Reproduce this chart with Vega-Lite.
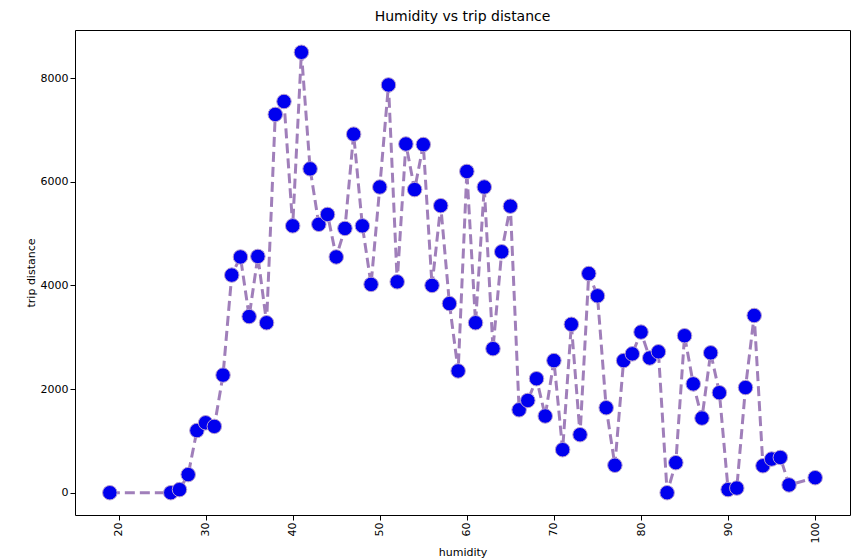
{
  "$schema": "https://vega.github.io/schema/vega-lite/v6.json",
  "width": 775, "height": 485,
  "autosize": {"type": "none"},
  "padding": {"left": 75, "top": 30, "right": 9, "bottom": 44},
  "title": {"text": "Humidity vs trip distance", "fontSize": 14, "fontWeight": "normal", "font": "DejaVu Sans", "color": "black", "offset": 6},
  "config": {"view": {"stroke": "black"}, "axis": {"labelFont": "DejaVu Sans", "titleFont": "DejaVu Sans", "labelFontSize": 11, "titleFontSize": 11, "titleFontWeight": "normal", "grid": false, "domain": false, "tickColor": "black", "labelColor": "black", "titleColor": "black"}},
  "data": {"values": [
    {"h":19,"d":0},{"h":26,"d":0},{"h":27,"d":60},{"h":28,"d":350},{"h":29,"d":1200},{"h":30,"d":1350},{"h":31,"d":1280},{"h":32,"d":2270},{"h":33,"d":4200},{"h":34,"d":4550},{"h":35,"d":3400},{"h":36,"d":4560},{"h":37,"d":3280},{"h":38,"d":7300},{"h":39,"d":7550},{"h":40,"d":5150},{"h":41,"d":8500},{"h":42,"d":6250},{"h":43,"d":5180},{"h":44,"d":5370},{"h":45,"d":4550},{"h":46,"d":5100},{"h":47,"d":6920},{"h":48,"d":5150},{"h":49,"d":4020},{"h":50,"d":5900},{"h":51,"d":7870},{"h":52,"d":4070},{"h":53,"d":6730},{"h":54,"d":5850},{"h":55,"d":6720},{"h":56,"d":4000},{"h":57,"d":5540},{"h":58,"d":3650},{"h":59,"d":2350},{"h":60,"d":6200},{"h":61,"d":3280},{"h":62,"d":5900},{"h":63,"d":2780},{"h":64,"d":4650},{"h":65,"d":5530},{"h":66,"d":1600},{"h":67,"d":1780},{"h":68,"d":2200},{"h":69,"d":1480},{"h":70,"d":2550},{"h":71,"d":830},{"h":72,"d":3250},{"h":73,"d":1120},{"h":74,"d":4230},{"h":75,"d":3800},{"h":76,"d":1640},{"h":77,"d":530},{"h":78,"d":2550},{"h":79,"d":2680},{"h":80,"d":3100},{"h":81,"d":2600},{"h":82,"d":2720},{"h":83,"d":0},{"h":84,"d":580},{"h":85,"d":3030},{"h":86,"d":2100},{"h":87,"d":1440},{"h":88,"d":2700},{"h":89,"d":1930},{"h":90,"d":60},{"h":91,"d":90},{"h":92,"d":2030},{"h":93,"d":3420},{"h":94,"d":520},{"h":95,"d":650},{"h":96,"d":680},{"h":97,"d":150},{"h":100,"d":290}
  ]},
  "encoding": {
    "x": {"field": "h", "type": "quantitative", "title": "humidity", "scale": {"domain": [15, 104], "nice": false, "zero": false}, "axis": {"values": [20,30,40,50,60,70,80,90,100], "labelAngle": -90}},
    "y": {"field": "d", "type": "quantitative", "title": "trip distance", "scale": {"domain": [-430, 8930], "nice": false}, "axis": {"values": [0,2000,4000,6000,8000], "format": "d"}}
  },
  "layer": [
    {"mark": {"type": "line", "color": "#a07fba", "strokeWidth": 3, "strokeDash": [10, 5]}},
    {"mark": {"type": "point", "filled": true, "size": 210, "color": "#0000ee", "stroke": "#b8a0d0", "strokeWidth": 1, "opacity": 1}}
  ]
}
